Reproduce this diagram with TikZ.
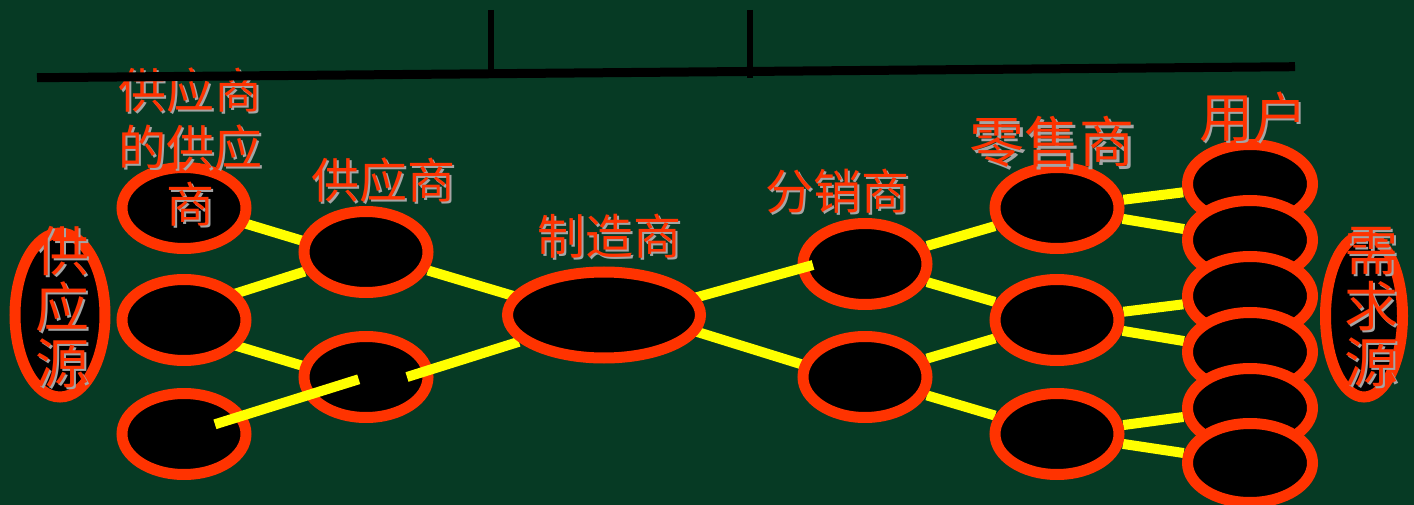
\documentclass[tikz,border=0pt]{standalone}
\usepackage{fontspec}
\newfontfamily\cjk{Noto Sans CJK SC}
\usetikzlibrary{shapes.geometric,calc}
\definecolor{bg}{RGB}{6,58,36}
\definecolor{ored}{RGB}{255,51,0}
\definecolor{yel}{RGB}{255,255,0}
\definecolor{shgray}{RGB}{165,165,165}
\pgfdeclarelayer{bgl}
\pgfdeclarelayer{back}
\pgfdeclarelayer{mid}
\pgfdeclarelayer{front}
\pgfdeclarelayer{top}
\pgfsetlayers{bgl,back,main,mid,front,top}
\newcommand\shlabel[4][]{%
  \node[lbl,#1,text=shgray] at ([shift={(2.5,2.5)}]#3) {#4};
  \node[lbl,#1] (#2) at (#3) {#4};}
\begin{document}
\begin{tikzpicture}[x=1pt,y=-1pt,
  oval/.style={ellipse, draw=ored, fill=black, line width=11pt, inner sep=0pt,
               minimum width=124pt, minimum height=81pt},
  conn/.style={draw=yel, line width=10pt},
  bar/.style={draw=black, line width=9pt},
  tickline/.style={draw=black, line width=6pt},
  lbl/.style={text=ored, font=\cjk\fontsize{48}{57}\selectfont, inner sep=0pt, align=center},
  vlbl/.style={font=\cjk\fontsize{54}{56}\selectfont},
]
\useasboundingbox (0,0) rectangle (1414,505);
\begin{pgfonlayer}{bgl}
  \fill[bg] (0,0) rectangle (1414,505);
\end{pgfonlayer}

% ellipses
\node[oval, minimum width=90pt, minimum height=164pt] (src) at (60,315) {};
\node[oval] (e1a) at (184,208) {};
\node[oval] (e1b) at (184,320) {};
\node[oval] (e1c) at (184,434) {};
\node[oval] (e2a) at (366,252) {};
\node[oval] (e2b) at (366,377) {};
\node[oval] (e4a) at (865,264) {};
\node[oval] (e4b) at (865,377) {};
\node[oval] (e5a) at (1057,208) {};
\node[oval] (e5b) at (1057,320) {};
\node[oval] (e5c) at (1057,434) {};
\node[oval, minimum width=125pt, minimum height=79pt] (u1) at (1250,184) {};
\node[oval, minimum width=125pt, minimum height=79pt] (u2) at (1250,240) {};
\node[oval, minimum width=125pt, minimum height=79pt] (u3) at (1250,296) {};
\node[oval, minimum width=125pt, minimum height=79pt] (u4) at (1250,352) {};
\node[oval, minimum width=125pt, minimum height=79pt] (u5) at (1250,408) {};
\node[oval, minimum width=125pt, minimum height=79pt] (u6) at (1250,463) {};
\node[oval, minimum width=77pt, minimum height=162pt] (dem) at (1364,316) {};
\begin{pgfonlayer}{front}
  \node[oval, minimum width=193pt, minimum height=86pt] (mfr) at (604,315) {};
\end{pgfonlayer}

% connectors behind the ovals
\begin{pgfonlayer}{back}
  \draw[conn] ($(e1a)+(0,-3)$) -- ($(e2a)+(0,8)$);
  \draw[conn] ($(e1b)+(0,-10)$) -- (e2a);
  \draw[conn] ($(e1b)+(0,10)$) -- ($(e2b)+(0,8)$);
  \draw[conn] (e2a) -- ($(mfr)+(0,8)$);
  \draw[conn] ($(mfr)+(0,-12)$) -- ($(e4b)+(0,7)$);
  \draw[conn] (e4a) -- (e5a);
  \draw[conn] (e4a) -- (e5b);
  \draw[conn] (e4b) -- (e5b);
  \draw[conn] (e4b) -- (e5c);
  \draw[conn] (e5a) -- (u1);
  \draw[conn] (e5a) -- (u2);
  \draw[conn] (e5b) -- (u3);
  \draw[conn] (e5b) -- (u4);
  \draw[conn] (e5c) -- (u5);
  \draw[conn] (e5c) -- (u6);
\end{pgfonlayer}

% connectors drawn over the ovals
\begin{pgfonlayer}{mid}
  \draw[conn] ($(e1c)!0.17!(e2b)$) -- ($(e1c)!0.96!(e2b)$);
  \draw[conn] ($(e2b)+(41,0)$) -- (mfr);
  \draw[conn] ($(mfr)+(0,8)$) -- ($(e4a)+(-52,1)$);
\end{pgfonlayer}

% labels and top bar
\begin{pgfonlayer}{top}
  \shlabel{l1}{190,147}{供应商\\的供应\\商}
  \shlabel{l2}{383,180}{供应商}
  \shlabel{l3}{609,236}{制造商}
  \shlabel{l4}{837,191}{分销商}
  \shlabel[font=\cjk\fontsize{55}{57}\selectfont]{l5}{1052,142}{零售商}
  \shlabel[font=\cjk\fontsize{54}{57}\selectfont]{l6}{1253,117}{用户}
  \shlabel[vlbl]{l7}{62,307}{供\\应\\源}
  \shlabel[vlbl]{l8}{1371,307}{需\\求\\源}
  \coordinate (bl) at (37,77.7);
  \coordinate (br) at (1295,66.7);
  \coordinate (t1a) at (491,10);
  \coordinate (t1b) at (491,72);
  \coordinate (t2a) at (750,10);
  \coordinate (t2b) at (750,78);
  \draw[bar] (bl) -- (br);
  \draw[tickline] (t1a) -- (t1b);
  \draw[tickline] (t2a) -- (t2b);
\end{pgfonlayer}
\end{tikzpicture}
\end{document}
